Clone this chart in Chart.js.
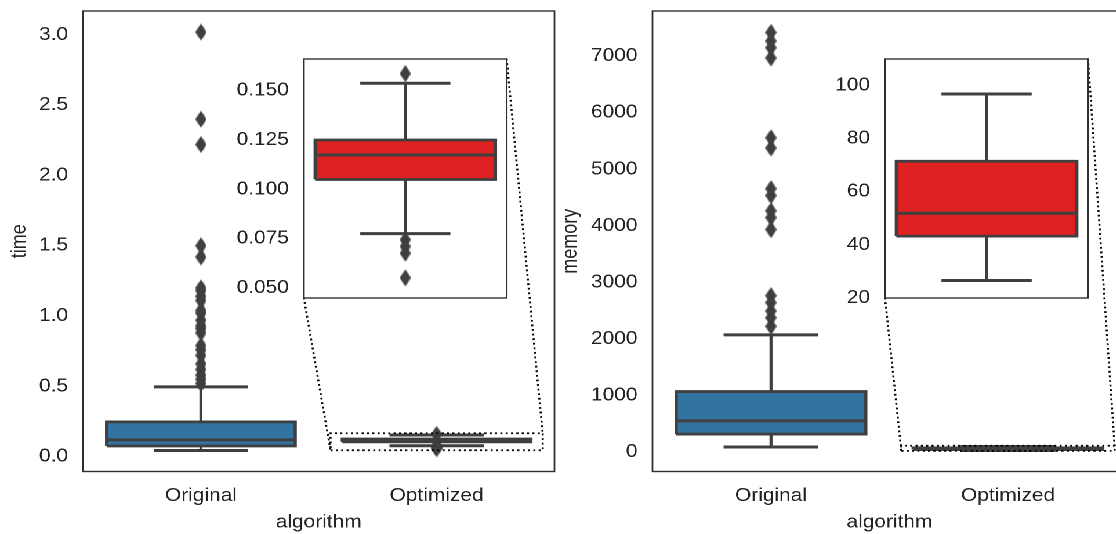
<!DOCTYPE html>
<html>
<head>
<meta charset="utf-8">
<script src="https://cdn.jsdelivr.net/npm/chart.js@4.4.1/dist/chart.umd.min.js"></script>
<style>
html, body { margin: 0; padding: 0; background: #fff; overflow: hidden; width: 1116px; height: 534px; }
#stage { position: relative; width: 962px; height: 534px; transform: scaleX(1.16); transform-origin: 0 0; }
canvas { position: absolute; top: 0; }
</style>
</head>
<body>
<div id="stage">
  <canvas id="timeChart" width="484" height="534" style="left:0"></canvas>
  <canvas id="memoryChart" width="496" height="534" style="left:484px"></canvas>
</div>
<script>
// data
const categories = ['Original', 'Optimized'];

const timeQ1 = [0.076, 0.105];
const timeMedian = [0.119, 0.1174];
const timeQ3 = [0.247, 0.125];
const timeLow = [0.043, 0.0776];
const timeHigh = [0.496, 0.1537];
const timeOutliers = [
    [0.52, 0.55, 0.58, 0.62, 0.66, 0.72, 0.76, 0.79, 0.88, 0.91, 0.93, 0.97,
     1.02, 1.04, 1.11, 1.14, 1.18, 1.20, 1.42, 1.50, 2.22, 2.40, 3.02],
    [0.1586, 0.0745, 0.0711, 0.0677, 0.0552]
];

const memoryQ1 = [317, 43.3];
const memoryMedian = [551, 51.9];
const memoryQ3 = [1069, 71.5];
const memoryLow = [89, 26.6];
const memoryHigh = [2072, 96.8];
const memoryOutliers = [
    [2223, 2374, 2493, 2643, 2764, 3935, 4146, 4265, 4536, 4657, 5377, 5558,
     6970, 7150, 7270, 7420],
    []
];

const timeTicks = [0, 0.5, 1.0, 1.5, 2.0, 2.5, 3.0];
const memoryTicks = [0, 1000, 2000, 3000, 4000, 5000, 6000, 7000];
const timeInsetTicks = [0.05, 0.075, 0.1, 0.125, 0.15];
const memoryInsetTicks = [20, 40, 60, 80, 100];

const timeRange = [-0.106, 3.17];
const memoryRange = [-345, 7800];
const timeInsetRange = [0.045, 0.166];
const memoryInsetRange = [20, 110];
const insetXRange = [0.55, 1.45];

// styling
const FONT = "'Liberation Sans', Arial, sans-serif";
const FONT_SIZE = 18;
const TEXT = '#222222';
const EDGE = '#3f3f3f';
const boxColors = ['#3274a1', '#df2020'];

Chart.defaults.font.family = FONT;
Chart.defaults.color = TEXT;

function makeDiamond(w, h) {
    const c = document.createElement('canvas');
    c.width = w;
    c.height = h;
    const g = c.getContext('2d');
    g.fillStyle = EDGE;
    g.beginPath();
    g.moveTo(w / 2, 0);
    g.lineTo(w, h / 2);
    g.lineTo(w / 2, h);
    g.lineTo(0, h / 2);
    g.closePath();
    g.fill();
    return c;
}
const diamond = makeDiamond(10, 17);

function seg(points, width, order) {
    return {
        type: 'line', data: points, borderColor: EDGE, borderWidth: width,
        pointRadius: 0, fill: false, order: order
    };
}

function boxDatasets(s, i) {
    const half = 0.4, cap = 0.2;
    return [
        {
            type: 'line',
            data: [{x: i - half, y: s.q3[i]}, {x: i + half, y: s.q3[i]}],
            fill: {value: s.q1[i]}, backgroundColor: boxColors[i],
            borderColor: 'rgba(0,0,0,0)', borderWidth: 0, pointRadius: 0, order: 9
        },
        seg([{x: i, y: s.q3[i]}, {x: i, y: s.high[i]}], 2.6, 8),
        seg([{x: i, y: s.q1[i]}, {x: i, y: s.low[i]}], 2.6, 8),
        seg([{x: i - cap, y: s.high[i]}, {x: i + cap, y: s.high[i]}], 3, 7),
        seg([{x: i - cap, y: s.low[i]}, {x: i + cap, y: s.low[i]}], 3, 7),
        seg([
            {x: i - half, y: s.q1[i]}, {x: i + half, y: s.q1[i]},
            {x: i + half, y: s.q3[i]}, {x: i - half, y: s.q3[i]},
            {x: i - half, y: s.q1[i]}
        ], 2.8, 6),
        seg([{x: i - half, y: s.median[i]}, {x: i + half, y: s.median[i]}], 3, 5),
        {
            type: 'scatter',
            data: s.outliers[i].map(v => ({x: i, y: v})),
            pointStyle: diamond, pointRadius: 5, order: 4
        }
    ];
}

const framePlugin = {
    id: 'frame',
    beforeDatasetsDraw(chart, args, opts) {
        if (!opts.white) return;
        const a = chart.chartArea, ctx = chart.ctx;
        ctx.save();
        ctx.fillStyle = '#fff';
        ctx.fillRect(a.left, a.top, a.right - a.left, a.bottom - a.top);
        ctx.restore();
    },
    afterDraw(chart) {
        const a = chart.chartArea, ctx = chart.ctx;
        ctx.save();
        ctx.strokeStyle = '#2f2f2f';
        ctx.lineWidth = 1.4;
        ctx.strokeRect(a.left, a.top, a.right - a.left, a.bottom - a.top);
        ctx.restore();
    }
};

function insetFrame(area, b) {
    const w = area.right - area.left, h = area.bottom - area.top;
    const x0 = area.left + b[0] * w;
    const y1 = area.bottom - b[1] * h;
    return {x0: x0, x1: x0 + b[2] * w, y0: y1 - b[3] * h, y1: y1};
}

function linksPlugin(bounds, range) {
    return {
        id: 'links',
        afterDatasetsDraw(chart) {
            const f = insetFrame(chart.chartArea, bounds);
            const xs = chart.scales.x, ys = chart.scales.y, ctx = chart.ctx;
            ctx.save();
            ctx.strokeStyle = '#000';
            ctx.lineWidth = 1.8;
            ctx.setLineDash([1.8, 2.8]);
            ctx.beginPath();
            ctx.moveTo(f.x0, f.y1);
            ctx.lineTo(xs.getPixelForValue(insetXRange[0]), ys.getPixelForValue(range[0]));
            ctx.moveTo(f.x1, f.y0);
            ctx.lineTo(xs.getPixelForValue(insetXRange[1]), ys.getPixelForValue(range[1]));
            ctx.stroke();
            ctx.restore();
        }
    };
}

// keep tick labels from pushing the plot area inwards
function noPad(sc) {
    sc.paddingTop = 0;
    sc.paddingBottom = 0;
    sc.paddingLeft = 0;
    sc.paddingRight = 0;
}

function mainChart(id, s) {
    const datasets = [].concat(boxDatasets(s, 0), boxDatasets(s, 1));
    datasets.push({
        type: 'line',
        data: [
            {x: insetXRange[0], y: s.insetRange[0]}, {x: insetXRange[1], y: s.insetRange[0]},
            {x: insetXRange[1], y: s.insetRange[1]}, {x: insetXRange[0], y: s.insetRange[1]},
            {x: insetXRange[0], y: s.insetRange[0]}
        ],
        borderColor: '#000', borderWidth: 1.8, borderDash: [1.8, 2.8],
        pointRadius: 0, fill: false, order: 1
    });
    return new Chart(document.getElementById(id), {
        type: 'scatter',
        data: {datasets: datasets},
        options: {
            responsive: false,
            animation: false,
            devicePixelRatio: 2,
            layout: {padding: {top: 11, right: s.padRight, left: 0, bottom: 0}},
            plugins: {legend: {display: false}, tooltip: {enabled: false}},
            scales: {
                x: {
                    type: 'linear', min: -0.5, max: 1.5,
                    grid: {display: false, drawTicks: false},
                    border: {display: false},
                    afterBuildTicks: sc => { sc.ticks = categories.map((c, i) => ({value: i})); },
                    afterFit: sc => { sc.height = 62.5; noPad(sc); },
                    ticks: {
                        padding: 13.5, color: TEXT, font: {size: FONT_SIZE},
                        autoSkip: false, maxRotation: 0,
                        callback: v => categories[v]
                    },
                    title: {
                        display: true, text: 'algorithm', color: TEXT,
                        font: {size: FONT_SIZE}, padding: {top: 4, bottom: 0.5}
                    }
                },
                y: {
                    type: 'linear', min: s.range[0], max: s.range[1],
                    grid: {display: false, drawTicks: false},
                    border: {display: false},
                    afterBuildTicks: sc => { sc.ticks = s.ticks.map(v => ({value: v})); },
                    afterFit: sc => { sc.width = s.axisW; noPad(sc); },
                    ticks: {padding: 13, color: TEXT, font: {size: FONT_SIZE}, callback: s.fmt},
                    title: {
                        display: true, text: s.label, color: TEXT,
                        font: {size: FONT_SIZE}, padding: {top: s.titlePad, bottom: 0}
                    }
                }
            }
        },
        plugins: [framePlugin, linksPlugin(s.bounds, s.insetRange)]
    });
}

function insetChart(main, canvasLeft, s) {
    const f = insetFrame(main.chartArea, s.bounds);
    const axisW = 64, pad = 12;
    const fw = f.x1 - f.x0, fh = f.y1 - f.y0;
    const W = Math.round(axisW + fw + pad), H = Math.round(fh + 2 * pad);
    const cv = document.createElement('canvas');
    cv.width = W;
    cv.height = H;
    cv.style.left = (canvasLeft + f.x0 - axisW) + 'px';
    cv.style.top = (f.y0 - pad) + 'px';
    document.getElementById('stage').appendChild(cv);
    return new Chart(cv, {
        type: 'scatter',
        data: {datasets: boxDatasets(s, 1)},
        options: {
            responsive: false,
            animation: false,
            devicePixelRatio: 2,
            layout: {padding: {top: pad, right: W - axisW - fw, left: 0, bottom: H - pad - fh}},
            plugins: {legend: {display: false}, tooltip: {enabled: false}, frame: {white: true}},
            scales: {
                x: {type: 'linear', min: insetXRange[0], max: insetXRange[1], display: false},
                y: {
                    type: 'linear', min: s.insetRange[0], max: s.insetRange[1],
                    grid: {display: false, drawTicks: false},
                    border: {display: false},
                    afterBuildTicks: sc => { sc.ticks = s.insetTicks.map(v => ({value: v})); },
                    afterFit: sc => { sc.width = axisW; noPad(sc); },
                    ticks: {padding: 13, color: TEXT, font: {size: FONT_SIZE}, callback: s.insetFmt}
                }
            }
        },
        plugins: [framePlugin]
    });
}

const timeSpec = {
    q1: timeQ1, median: timeMedian, q3: timeQ3, low: timeLow, high: timeHigh,
    outliers: timeOutliers, range: timeRange, ticks: timeTicks,
    insetRange: timeInsetRange, insetTicks: timeInsetTicks,
    fmt: v => v.toFixed(1), insetFmt: v => v.toFixed(3),
    label: 'time', axisW: 71.6, padRight: 5.6, titlePad: 6.4,
    bounds: [0.4683, 0.3776, 0.4302, 0.519]
};
const memorySpec = {
    q1: memoryQ1, median: memoryMedian, q3: memoryQ3, low: memoryLow, high: memoryHigh,
    outliers: memoryOutliers, range: memoryRange, ticks: memoryTicks,
    insetRange: memoryInsetRange, insetTicks: memoryInsetTicks,
    fmt: v => String(v), insetFmt: v => String(v),
    label: 'memory', axisW: 78.5, padRight: 8.9, titlePad: -3,
    bounds: [0.4905, 0.3776, 0.4283, 0.519]
};

const timeChart = mainChart('timeChart', timeSpec);
const memoryChart = mainChart('memoryChart', memorySpec);
insetChart(timeChart, 0, timeSpec);
insetChart(memoryChart, 484, memorySpec);
</script>
</body>
</html>
